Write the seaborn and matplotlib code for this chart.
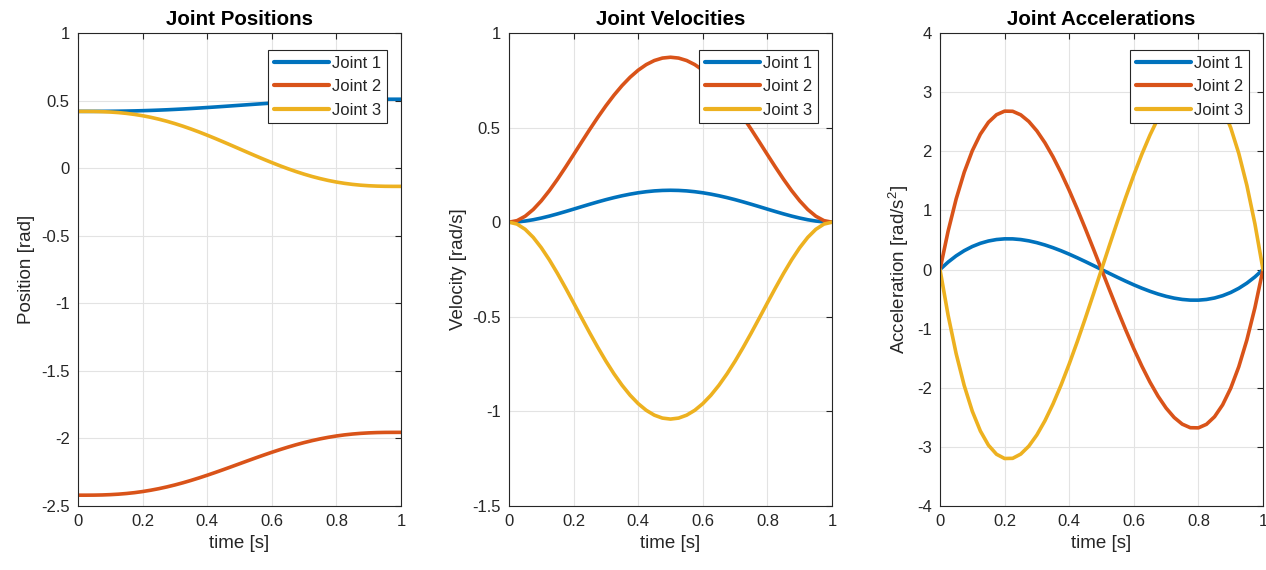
import numpy as np
import pandas as pd
import matplotlib
matplotlib.use("Agg")
import matplotlib.pyplot as plt
import seaborn as sns

# ---- data ----
time = [0.000, 0.025, 0.050, 0.075, 0.100, 0.125, 0.150, 0.175, 0.200, 0.225,
        0.250, 0.275, 0.300, 0.325, 0.350, 0.375, 0.400, 0.425, 0.450, 0.475,
        0.500, 0.525, 0.550, 0.575, 0.600, 0.625, 0.650, 0.675, 0.700, 0.725,
        0.750, 0.775, 0.800, 0.825, 0.850, 0.875, 0.900, 0.925, 0.950, 0.975, 1.000]

pos_j1 = [0.4200, 0.4200, 0.4201, 0.4203, 0.4208, 0.4214, 0.4224, 0.4236, 0.4252, 0.4271,
          0.4293, 0.4318, 0.4347, 0.4378, 0.4412, 0.4448, 0.4486, 0.4525, 0.4566, 0.4608,
          0.4650, 0.4692, 0.4734, 0.4775, 0.4814, 0.4852, 0.4888, 0.4922, 0.4953, 0.4982,
          0.5007, 0.5029, 0.5048, 0.5064, 0.5076, 0.5086, 0.5092, 0.5097, 0.5099, 0.5100, 0.5100]
pos_j2 = [-2.4200, -2.4199, -2.4195, -2.4183, -2.4160, -2.4125, -2.4076, -2.4012, -2.3931, -2.3833,
          -2.3719, -2.3588, -2.3442, -2.3281, -2.3106, -2.2920, -2.2724, -2.2519, -2.2308, -2.2093,
          -2.1875, -2.1657, -2.1442, -2.1231, -2.1026, -2.0830, -2.0644, -2.0469, -2.0308, -2.0162,
          -2.0031, -1.9917, -1.9819, -1.9738, -1.9674, -1.9625, -1.9590, -1.9567, -1.9555, -1.9551, -1.9550]
pos_j3 = [0.4200, 0.4199, 0.4194, 0.4179, 0.4152, 0.4111, 0.4052, 0.3975, 0.3879, 0.3762,
          0.3625, 0.3470, 0.3295, 0.3103, 0.2895, 0.2673, 0.2438, 0.2194, 0.1942, 0.1685,
          0.1425, 0.1165, 0.0908, 0.0656, 0.0412, 0.0177, -0.0045, -0.0253, -0.0445, -0.0620,
          -0.0775, -0.0912, -0.1029, -0.1125, -0.1202, -0.1261, -0.1302, -0.1329, -0.1344, -0.1349, -0.1350]

vel_j1 = [0.0, 0.0016, 0.0061, 0.0130, 0.0219, 0.0323, 0.0439, 0.0563, 0.0691, 0.0821,
          0.0949, 0.1073, 0.1191, 0.1299, 0.1397, 0.1483, 0.1555, 0.1612, 0.1654, 0.1679,
          0.1688, 0.1679, 0.1654, 0.1612, 0.1555, 0.1483, 0.1397, 0.1299, 0.1191, 0.1073,
          0.0949, 0.0821, 0.0691, 0.0563, 0.0439, 0.0323, 0.0219, 0.0130, 0.0061, 0.0016, 0.0]
vel_j2 = [0.0, 0.0083, 0.0315, 0.0671, 0.1130, 0.1669, 0.2268, 0.2908, 0.3571, 0.4242,
          0.4904, 0.5545, 0.6152, 0.6714, 0.7220, 0.7663, 0.8035, 0.8331, 0.8545, 0.8675,
          0.8719, 0.8675, 0.8545, 0.8331, 0.8035, 0.7663, 0.7220, 0.6714, 0.6152, 0.5545,
          0.4904, 0.4242, 0.3571, 0.2908, 0.2268, 0.1669, 0.1130, 0.0671, 0.0315, 0.0083, 0.0]
vel_j3 = [0.0, -0.0099, -0.0376, -0.0801, -0.1349, -0.1992, -0.2707, -0.3471, -0.4262, -0.5063,
          -0.5854, -0.6618, -0.7343, -0.8013, -0.8617, -0.9146, -0.9590, -0.9943, -1.0199, -1.0354,
          -1.0406, -1.0354, -1.0199, -0.9943, -0.9590, -0.9146, -0.8617, -0.8013, -0.7343, -0.6618,
          -0.5854, -0.5063, -0.4262, -0.3471, -0.2707, -0.1992, -0.1349, -0.0801, -0.0376, -0.0099, 0.0]

acc_j1 = [0.0, 0.1250, 0.2309, 0.3184, 0.3888, 0.4430, 0.4820, 0.5068, 0.5184, 0.5179,
          0.5063, 0.4845, 0.4536, 0.4146, 0.3686, 0.3164, 0.2592, 0.1979, 0.1337, 0.0673,
          0.0, -0.0673, -0.1337, -0.1979, -0.2592, -0.3164, -0.3686, -0.4146, -0.4536, -0.4845,
          -0.5063, -0.5179, -0.5184, -0.5068, -0.4820, -0.4430, -0.3888, -0.3184, -0.2309, -0.1250, 0.0]
acc_j2 = [0.0, 0.6461, 1.1927, 1.6452, 2.0088, 2.2887, 2.4901, 2.6182, 2.6784, 2.6758,
          2.6156, 2.5032, 2.3436, 2.1422, 1.9042, 1.6348, 1.3392, 1.0227, 0.6905, 0.3479,
          0.0, -0.3479, -0.6905, -1.0227, -1.3392, -1.6348, -1.9042, -2.1422, -2.3436, -2.5032,
          -2.6156, -2.6758, -2.6784, -2.6182, -2.4901, -2.2887, -2.0088, -1.6452, -1.1927, -0.6461, 0.0]
acc_j3 = [0.0, -0.7711, -1.4236, -1.9637, -2.3976, -2.7316, -2.9720, -3.1250, -3.1968, -3.1937,
          -3.1219, -2.9876, -2.7972, -2.5568, -2.2727, -1.9512, -1.5984, -1.2207, -0.8242, -0.4152,
          0.0, 0.4152, 0.8242, 1.2207, 1.5984, 1.9512, 2.2727, 2.5568, 2.7972, 2.9876,
          3.1219, 3.1937, 3.1968, 3.1250, 2.9720, 2.7316, 2.3976, 1.9637, 1.4236, 0.7711, 0.0]

joints = ["Joint 1", "Joint 2", "Joint 3"]
titles = ["Joint Positions", "Joint Velocities", "Joint Accelerations"]
ylabels = ["Position [rad]", "Velocity [rad/s]", "Acceleration [rad/s$^2$]"]
xticks = [0, 0.2, 0.4, 0.6, 0.8, 1]
xticklabels = ["0", "0.2", "0.4", "0.6", "0.8", "1"]
yticks_list = [[-2.5, -2, -1.5, -1, -0.5, 0, 0.5, 1],
               [-1.5, -1, -0.5, 0, 0.5, 1],
               [-4, -3, -2, -1, 0, 1, 2, 3, 4]]
yticklabels_list = [["-2.5", "-2", "-1.5", "-1", "-0.5", "0", "0.5", "1"],
                    ["-1.5", "-1", "-0.5", "0", "0.5", "1"],
                    ["-4", "-3", "-2", "-1", "0", "1", "2", "3", "4"]]

series = [[pos_j1, pos_j2, pos_j3], [vel_j1, vel_j2, vel_j3], [acc_j1, acc_j2, acc_j3]]

palette = {"Joint 1": "#0072BD", "Joint 2": "#D95319", "Joint 3": "#EDB120"}

sns.set_style("white")
plt.rcParams["font.family"] = ["Liberation Sans", "DejaVu Sans"]
plt.rcParams["mathtext.fontset"] = "custom"
plt.rcParams["mathtext.rm"] = "Liberation Sans"
plt.rcParams["mathtext.it"] = "Liberation Sans"

fig = plt.figure(figsize=(12.66, 5.7), dpi=100)
lefts = [78, 509, 940]
for i in range(3):
    ax = fig.add_axes([lefts[i] / 1266, 1 - 506 / 570, 323 / 1266, 473 / 570])
    frames = []
    for j, name in enumerate(joints):
        frames.append(pd.DataFrame({"time": time, "value": series[i][j], "joint": name}))
    df = pd.concat(frames, ignore_index=True)
    sns.lineplot(data=df, x="time", y="value", hue="joint", palette=palette,
                 linewidth=2.6, ax=ax, estimator=None, sort=False)
    ax.set_xlim(0, 1)
    yt = yticks_list[i]
    ax.set_ylim(yt[0], yt[-1])
    ax.set_xticks(xticks)
    ax.set_xticklabels(xticklabels)
    ax.set_yticks(yt)
    ax.set_yticklabels(yticklabels_list[i])
    ax.grid(True, color="#e3e3e3", linewidth=0.8)
    ax.set_axisbelow(True)
    for sp in ax.spines.values():
        sp.set_visible(True)
        sp.set_color("#262626")
        sp.set_linewidth(0.8)
    ax.tick_params(direction="in", top=True, right=True, length=4, width=0.8,
                   labelsize=12, colors="#262626", pad=6)
    ax.set_xlabel("time [s]", fontsize=13.5, color="#262626", labelpad=4)
    ax.set_ylabel(ylabels[i], fontsize=13.5, color="#262626", labelpad=4)
    ax.set_title(titles[i], fontsize=14.8, fontweight="bold", color="#000000", pad=6)
    leg = ax.legend(loc="upper right", bbox_to_anchor=(0.957, 0.964), fontsize=12,
                    frameon=True, fancybox=False, edgecolor="#262626", framealpha=1,
                    handlelength=3.3, borderpad=0.35, labelspacing=0.5,
                    handletextpad=0.2, borderaxespad=0.0)
    leg.get_frame().set_linewidth(0.8)
    leg.set_title(None)
    for line in leg.get_lines():
        line.set_linewidth(3.0)

fig.savefig("out.png", dpi=100)
